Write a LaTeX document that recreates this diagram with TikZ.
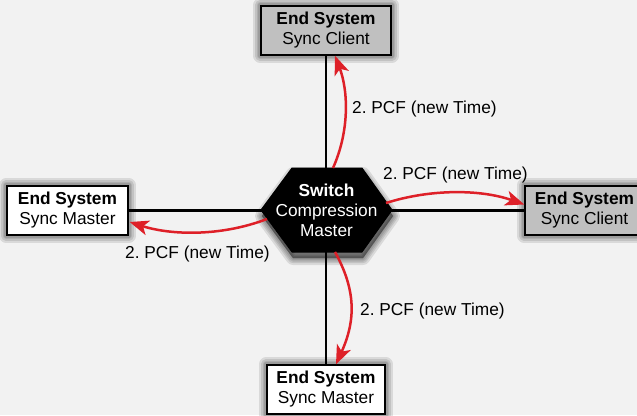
\documentclass[tikz,border=0pt]{standalone}
\usepackage{fontspec}
\setmainfont{Liberation Sans}
\usetikzlibrary{arrows.meta}
\definecolor{bgc}{RGB}{242,242,242}
\definecolor{clientgray}{RGB}{192,192,192}
\definecolor{arrred}{RGB}{222,32,40}
\pgfdeclarelayer{backlayer}
\pgfdeclarelayer{shadowlayer}
\pgfdeclarelayer{linelayer}
\pgfsetlayers{backlayer,shadowlayer,linelayer,main}
\frenchspacing
\begin{document}
\begin{tikzpicture}[x=1pt,y=-1pt,
  txt/.style={font=\fontsize{17.3}{20}\selectfont},
  endbox/.style={txt, draw=black, line width=1.4pt, align=center, minimum height=49pt, inner sep=0pt},
  client/.style={endbox, fill=clientgray},
  master/.style={endbox, fill=white},
  softshadow/.style={draw=black, fill=black, opacity=0.1, line join=round, shift={(1,6)}},
  conn/.style={draw=black, line width=2.6pt},
  arr/.style={draw=arrred, line width=2.5pt, -{Stealth[length=19pt,width=15pt,inset=5pt]}},
  lbl/.style={txt, anchor=west, inner sep=0pt}
]
\begin{pgfonlayer}{backlayer}
  \fill[bgc] (0,0) rectangle (637,415);
\end{pgfonlayer}
\useasboundingbox (0,0) rectangle (637,415);

% switch hexagon
\draw[fill=black, line width=1pt, line join=round] (261,210) -- (292,168) -- (362,168) -- (392,210) -- (362,252) -- (292,252) -- cycle;
\node[txt, text=white, align=center, inner sep=0pt] (sw) at (326.5,210) {\textbf{Switch}\\Compression\\Master};

% end systems
\node[client, minimum width=130pt] (tc) at (326,30.5) {\textbf{End System}\\Sync Client};
\node[master, minimum width=121pt] (lm) at (67.5,210.5) {\textbf{End System}\\Sync Master};
\node[client, minimum width=119pt] (rc) at (584.5,210.5) {\textbf{End System}\\Sync Client};
\node[master, minimum width=118pt] (bm) at (326,389.5) {\textbf{End System}\\Sync Master};

% soft shadows
\begin{pgfonlayer}{shadowlayer}
  \foreach \w in {14,10,7,4,1}{
    \path[softshadow, line width=\w pt] (261,210) -- (292,168) -- (362,168) -- (392,210) -- (362,252) -- (292,252) -- cycle;
    \foreach \n in {tc,lm,rc,bm}{
      \path[softshadow, line width=\w pt] (\n.north west) rectangle (\n.south east);
    }
  }
\end{pgfonlayer}

% black links
\begin{pgfonlayer}{linelayer}
  \draw[conn] (tc.south) -- (bm.north);
  \draw[conn] (lm.east) -- (rc.west);
\end{pgfonlayer}

% arrow start points on the switch
\coordinate (sT) at (333,168);
\coordinate (sR) at (386,203);
\coordinate (sL) at (267,219);
\coordinate (sB) at (335,252);

% red arrows
\draw[arr] (sT) .. controls (350,130) and (348,90) .. ([xshift=9pt]tc.south);
\draw[arr] (sR) .. controls (430,189) and (480,189) .. ([yshift=6pt]rc.west);
\draw[arr] (sL) .. controls (220,237) and (170,235) .. ([yshift=-11.5pt,xshift=1pt]lm.east);
\draw[arr] (sB) .. controls (356,290) and (356,320) .. ([xshift=10pt]bm.north);

% labels
\node[lbl] (l1) at (352,109) {2. PCF (new Time)};
\node[lbl] (l2) at (383,175) {2. PCF (new Time)};
\node[lbl] (l3) at (125,254) {2. PCF (new Time)};
\node[lbl] (l4) at (360,311) {2. PCF (new Time)};
\end{tikzpicture}
\end{document}
